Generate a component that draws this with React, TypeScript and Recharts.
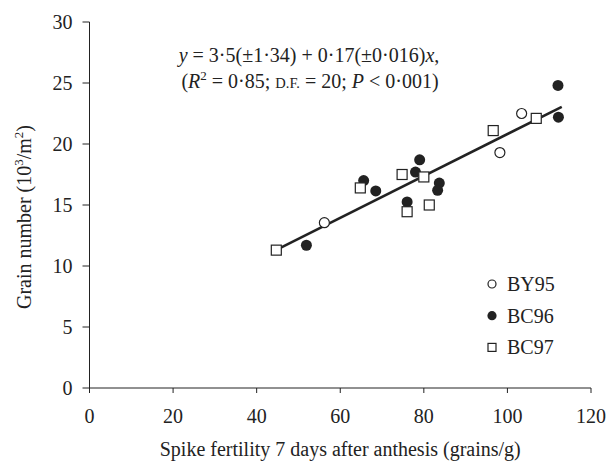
import { ScatterChart, Scatter, XAxis, YAxis, Customized } from 'recharts';

const xTicks = [0, 20, 40, 60, 80, 100, 120];
const yTicks = [0, 5, 10, 15, 20, 25, 30];

const by95 = [
  { x: 56.2, y: 13.55 },
  { x: 98.2, y: 19.3 },
  { x: 103.4, y: 22.5 },
];

const bc96 = [
  { x: 51.9, y: 11.7 },
  { x: 65.6, y: 17.0 },
  { x: 68.5, y: 16.15 },
  { x: 76.0, y: 15.25 },
  { x: 78.0, y: 17.7 },
  { x: 79.0, y: 18.7 },
  { x: 83.7, y: 16.8 },
  { x: 83.3, y: 16.2 },
  { x: 112.1, y: 24.8 },
  { x: 112.2, y: 22.2 },
];

const bc97 = [
  { x: 44.7, y: 11.3 },
  { x: 64.8, y: 16.4 },
  { x: 74.8, y: 17.5 },
  { x: 76.0, y: 14.45 },
  { x: 80.0, y: 17.3 },
  { x: 81.3, y: 15.0 },
  { x: 96.6, y: 21.1 },
  { x: 106.9, y: 22.1 },
];

// regression line end points
const fitLine = [
  { x: 44, y: 11.2 },
  { x: 113, y: 23.05 },
];

const seriesNames = ['BY95', 'BC96', 'BC97'];

const FONT = '"Liberation Serif", "Times New Roman", serif';
const INK = '#222';
const FS = 20;

function OpenCircle(props: any) {
  const r = props.r ?? 5;
  return <circle cx={props.cx} cy={props.cy} r={r} fill="#fff" stroke={INK} strokeWidth={1.2} />;
}

function FilledCircle(props: any) {
  const r = props.r ?? 5.5;
  return <circle cx={props.cx} cy={props.cy} r={r} fill={INK} />;
}

function OpenSquare(props: any) {
  const h = props.half ?? 5;
  return (
    <rect x={props.cx - h} y={props.cy - h} width={h * 2} height={h * 2} fill="#fff" stroke={INK} strokeWidth={1.2} />
  );
}

function LegendBox() {
  const left = 492;
  const top = 284;
  const step = 31.7;
  return (
    <g fontFamily={FONT} fontSize={FS} fill={INK}>
      {seriesNames.map((n, i) => {
        const cy = top + i * step;
        return (
          <g key={n}>
            {n === 'BY95' && <OpenCircle cx={left} cy={cy} r={4} />}
            {n === 'BC96' && <FilledCircle cx={left} cy={cy} r={4.6} />}
            {n === 'BC97' && <OpenSquare cx={left} cy={cy} half={4} />}
            <text x={left + 15} y={cy + 7}>
              {n}
            </text>
          </g>
        );
      })}
    </g>
  );
}

function Equation() {
  return (
    <g fontFamily={FONT} fontSize={FS} fill={INK}>
      <text x={309} y={62} textAnchor="middle">
        <tspan fontStyle="italic">y</tspan> = 3·5(±1·34) + 0·17(±0·016)<tspan fontStyle="italic">x</tspan>,
      </text>
      <text x={310} y={88} textAnchor="middle">
        (<tspan fontStyle="italic">R</tspan>
        <tspan dy={-8} fontSize={13}>2</tspan>
        <tspan dy={8}> = 0·85; </tspan>
        <tspan fontSize={14.5}>D.F.</tspan>
        <tspan> = 20; </tspan>
        <tspan fontStyle="italic">P</tspan>
        <tspan> &lt; 0·001)</tspan>
      </text>
    </g>
  );
}

function YLabel(props: any) {
  const vb = props.viewBox;
  const bx = 31;
  const cy = vb.y + vb.height / 2 + 12;
  return (
    <text
      x={bx}
      y={cy}
      transform={`rotate(-90 ${bx} ${cy})`}
      textAnchor="middle"
      fontFamily={FONT}
      fontSize={FS}
      fill={INK}
    >
      Grain number (10<tspan dy={-8} fontSize={13}>3</tspan>
      <tspan dy={8}>/m</tspan>
      <tspan dy={-8} fontSize={13}>2</tspan>
      <tspan dy={8}>)</tspan>
    </text>
  );
}

function XLabel(props: any) {
  const vb = props.viewBox;
  return (
    <text x={vb.x + vb.width / 2} y={vb.y + 68} textAnchor="middle" fontFamily={FONT} fontSize={FS} fill={INK}>
      Spike fertility 7 days after anthesis (grains/g)
    </text>
  );
}

export default function App() {
  const tickStyle = { fontFamily: FONT, fontSize: FS, fill: INK };
  return (
    <div style={{ position: 'absolute', left: 0, top: 0, background: '#fff' }}>
      <ScatterChart width={609} height={461} margin={{ top: 22, right: 18, bottom: 0, left: 0 }}>
        <XAxis
          type="number"
          dataKey="x"
          domain={[0, 120]}
          ticks={xTicks}
          height={73}
          stroke={INK}
          tickSize={5}
          tickMargin={16}
          tick={tickStyle}
          label={<XLabel />}
        />
        <YAxis
          type="number"
          dataKey="y"
          domain={[0, 30]}
          ticks={yTicks}
          width={89.5}
          stroke={INK}
          tickSize={7}
          tickMargin={10}
          tick={tickStyle}
          label={<YLabel />}
        />
        <Scatter
          name="fit"
          data={fitLine}
          line={{ stroke: INK, strokeWidth: 2.5 }}
          shape={() => <g />}
          legendType="none"
          isAnimationActive={false}
        />
        <Scatter name="BY95" data={by95} shape={OpenCircle} isAnimationActive={false} />
        <Scatter name="BC96" data={bc96} shape={FilledCircle} isAnimationActive={false} />
        <Scatter name="BC97" data={bc97} shape={OpenSquare} isAnimationActive={false} />
        <Customized component={LegendBox} />
        <Customized component={Equation} />
      </ScatterChart>
    </div>
  );
}
